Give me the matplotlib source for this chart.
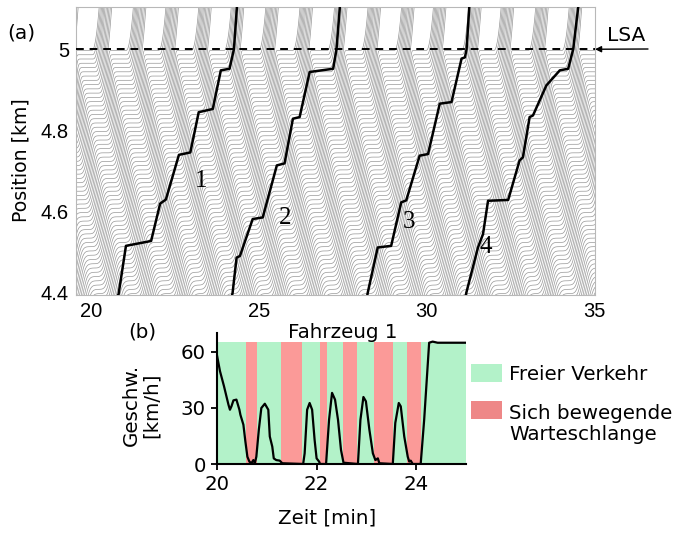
import numpy as np
import matplotlib
matplotlib.use("Agg")
import matplotlib.pyplot as plt
from matplotlib.collections import LineCollection
from matplotlib.patches import Rectangle

# ---------------- data ----------------
# (a) highlighted vehicle trajectories: time [min], position [km]
veh1_t = [20.70, 20.81, 21.03, 21.78, 22.05, 22.22, 22.61, 22.95, 23.20, 23.62, 23.86, 24.12, 24.25, 24.34]
veh1_x = [4.380, 4.397, 4.516, 4.528, 4.620, 4.630, 4.740, 4.746, 4.845, 4.853, 4.948, 4.952, 5.000, 5.104]
veh2_t = [24.16, 24.21, 24.33, 24.43, 24.81, 25.11, 25.53, 25.76, 26.01, 26.21, 26.51, 27.21, 27.31, 27.41]
veh2_x = [4.380, 4.400, 4.487, 4.491, 4.582, 4.586, 4.714, 4.719, 4.829, 4.833, 4.944, 4.952, 5.000, 5.104]
veh3_t = [28.20, 28.24, 28.54, 28.94, 29.24, 29.39, 29.79, 30.04, 30.39, 30.74, 31.04, 31.14, 31.19, 31.27]
veh3_x = [4.380, 4.400, 4.512, 4.516, 4.623, 4.628, 4.738, 4.742, 4.866, 4.870, 4.977, 4.980, 5.000, 5.104]
veh4_t = [31.15, 31.18, 31.53, 31.68, 31.83, 32.43, 32.77, 32.87, 33.07, 33.17, 33.57, 33.97, 34.22, 34.37, 34.52]
veh4_x = [4.380, 4.400, 4.512, 4.545, 4.627, 4.629, 4.726, 4.734, 4.833, 4.837, 4.911, 4.948, 4.952, 5.000, 5.104]
veh_labels = ["1", "2", "3", "4"]
label_t = [23.26, 25.78, 29.47, 31.77]
label_x = [4.675, 4.585, 4.575, 4.512]

# traffic light (LSA) at 5 km: green phase starts [min] (cycle ~1 min)
green_start = [15.03, 16.03, 17.03, 18.03, 19.03, 20.03, 21.05, 22.02, 23.0, 23.97,
               25.0, 26.02, 27.05, 28.05, 29.05, 30.0, 31.05, 32.02, 33.05, 34.05, 35.05]
green_dur = 0.5

# (b) speed of vehicle 1 [km/h]
speed_t = [20.0, 20.06, 20.14, 20.23, 20.26, 20.29, 20.33, 20.39, 20.45, 20.47, 20.53, 20.57,
           20.61, 20.65, 20.69, 20.73, 20.76, 20.79, 20.84, 20.89, 20.96, 21.03, 21.06, 21.11,
           21.14, 21.19, 21.26, 21.31, 21.73, 21.76, 21.81, 21.86, 21.91, 21.96, 22.0, 22.05,
           22.07, 22.19, 22.25, 22.31, 22.37, 22.43, 22.49, 22.54, 22.83, 22.88, 22.94, 22.99,
           23.06, 23.13, 23.18, 23.23, 23.26, 23.53, 23.58, 23.65, 23.69, 23.76, 23.83, 23.86,
           23.89, 23.93, 24.09, 24.16, 24.26, 24.33, 24.43, 25.0]
speed_v = [58, 49.6, 41.6, 31.7, 29, 30.8, 34, 34.4, 29, 26.3, 21, 12,
           3.9, 1.3, 0.4, 2.1, 0.4, 3.9, 18.3, 29.9, 32.2, 29, 14.7, 9.3,
           3, 2.1, 1.8, 0.4, 0, 5.7, 29, 32.6, 29, 12.9, 3, 1.3,
           0, 0, 23.6, 38, 34.4, 23.6, 7.5, 0.7, 0, 23.6, 35.8, 33.5,
           18.3, 5.7, 2.1, 3, 0.4, 0, 21.9, 32.6, 30.8, 14.7, 3.9, 1.3,
           1.8, 0, 0, 23.6, 64.8, 65.4, 64.8, 64.8]
queue_start = [20.59, 21.28, 22.06, 22.54, 23.16, 23.81]
queue_end = [20.81, 21.71, 22.20, 22.81, 23.54, 24.09]

# ---------------- background trajectories: queue in front of the LSA (Newell-type follower model) ----------------
dt = 0.005
t_sim = np.arange(15.0, 35.3, dt)
n_veh = 400
jam_gap = 0.0105       # km
react = 0.017          # min
acc = 5.0              # km/min^2
v_queue = 0.7          # km/min before the LSA
v_free = 65.0 / 60.0   # km/min after the LSA
t_relax = 0.015        # min
stop_x = 5.0
lag = max(int(round(react / dt)), 1)
gs = np.array(green_start)
X = np.empty((len(t_sim), n_veh))
X[0] = stop_x - 0.003 - jam_gap * np.arange(n_veh)
v = np.zeros(n_veh)
for s in range(1, len(t_sim)):
    t = t_sim[s]
    x = X[s - 1]
    bound = np.full(n_veh, 1e9)
    bound[1:] = X[max(s - lag, 0), :-1] - jam_gap
    if not np.any((t >= gs) & (t < gs + green_dur)):
        m = x < stop_x
        bound[m] = np.minimum(bound[m], stop_x - 0.003)
    cap = np.where(x < stop_x, v_queue, v_free)
    vg = np.maximum(bound - x, 0) / t_relax
    vn = np.minimum(np.minimum(v + acc * dt, cap), vg)
    X[s] = x + vn * dt
    v = vn
w = 12
c = np.cumsum(np.vstack([np.zeros((1, n_veh)), X]), axis=0)
Xs = (c[w:] - c[:-w]) / w
ts = t_sim[w // 2: w // 2 + Xs.shape[0]]

# ---------------- figure ----------------
fig = plt.figure(figsize=(6.73, 5.34), dpi=100)
W, H = 673.0, 534.0
SANS = "DejaVu Sans"
ax = fig.add_axes([76 / W, 1 - 295 / H, (595 - 76) / W, (295 - 7) / H])
segs = []
for n in range(n_veh):
    xs = Xs[::2, n]
    if xs.max() < 4.38 or xs.min() > 5.11:
        continue
    segs.append(np.column_stack([ts[::2], xs]))
ax.add_collection(LineCollection(segs, colors="#979797", linewidths=0.5))
for vt, vx in [(veh1_t, veh1_x), (veh2_t, veh2_x), (veh3_t, veh3_x), (veh4_t, veh4_x)]:
    ax.plot(vt, vx, color="black", lw=1.8, solid_joinstyle="round", zorder=3)
ax.axhline(5.0, color="black", lw=1.4, ls=(0, (4, 3)), zorder=4)
for lab, lt, lx in zip(veh_labels, label_t, label_x):
    ax.text(lt, lx, lab, fontsize=18, family="Liberation Serif", ha="center", va="center", zorder=5)
ax.set_xlim(19.54, 35.02)
ax.set_ylim(4.395, 5.104)
ax.set_xticks([20, 25, 30, 35])
ax.set_yticks([4.4, 4.6, 4.8, 5.0])
ax.set_yticklabels(["4.4", "4.6", "4.8", "5"])
ax.tick_params(length=0, labelsize=14.5, pad=5)
for lbl in ax.get_xticklabels() + ax.get_yticklabels():
    lbl.set_family("Liberation Sans")
for sp in ax.spines.values():
    sp.set_color("#b8b8b8")
    sp.set_linewidth(0.8)
fig.text(21 / W, 1 - 160 / H, "Position [km]", rotation=90, ha="center", va="center",
         fontsize=13.6, family=SANS)
fig.text(21 / W, 1 - 33 / H, "(a)", ha="center", va="center", fontsize=14.5, family=SANS)
fig.text(626 / W, 1 - 36 / H, "LSA", ha="center", va="center", fontsize=14.5, family=SANS)
ax.annotate("", xy=(1.0, 5.0), xycoords=("axes fraction", "data"),
            xytext=(648 / W, 1 - 49 / H), textcoords="figure fraction",
            arrowprops=dict(arrowstyle="-|>", color="black", lw=1.0, shrinkA=0, shrinkB=0,
                            mutation_scale=9), annotation_clip=False)

# ---------------- panel (b) ----------------
bx = fig.add_axes([217 / W, 1 - 464 / H, (466 - 217) / W, (464 - 333) / H])
green_col = "#b3f2c9"
red_col = "#fb9a98"
bx.axvspan(20, 25, ymin=0, ymax=65 / 70, color=green_col, lw=0, zorder=0)
for a, b in zip(queue_start, queue_end):
    bx.axvspan(a, b, ymin=0, ymax=65 / 70, color=red_col, lw=0, zorder=1)
bx.plot(speed_t, speed_v, color="black", lw=1.6, zorder=3)
bx.set_xlim(20, 25)
bx.set_ylim(0, 70)
bx.set_xticks([20, 22, 24])
bx.set_yticks([0, 30, 60])
bx.spines["top"].set_visible(False)
bx.spines["right"].set_visible(False)
bx.spines["left"].set_linewidth(1.5)
bx.spines["bottom"].set_linewidth(1.5)
bx.tick_params(length=4, width=1.3, labelsize=14.2, pad=4)
for lbl in bx.get_xticklabels() + bx.get_yticklabels():
    lbl.set_family(SANS)
fig.text(343 / W, 1 - 332 / H, "Fahrzeug 1", ha="center", va="center", fontsize=14.3, family=SANS)
fig.text(142 / W, 1 - 332 / H, "(b)", ha="center", va="center", fontsize=14.3, family=SANS)
fig.text(141 / W, 1 - 405 / H, "Geschw.\n[km/h]", rotation=90, ha="center", va="center",
         fontsize=14.3, family=SANS, linespacing=1.05)
fig.text(327 / W, 1 - 518 / H, "Zeit [min]", ha="center", va="center", fontsize=14.3, family=SANS)

# legend
fig.patches.append(Rectangle((471 / W, 1 - 382 / H), 31 / W, 18 / H, transform=fig.transFigure,
                             facecolor=green_col, edgecolor="none"))
fig.patches.append(Rectangle((471 / W, 1 - 419 / H), 31 / W, 18 / H, transform=fig.transFigure,
                             facecolor="#ee8787", edgecolor="none"))
fig.text(509 / W, 1 - 374 / H, "Freier Verkehr", ha="left", va="center", fontsize=14.3, family=SANS)
fig.text(509 / W, 1 - 424 / H, "Sich bewegende\nWarteschlange", ha="left", va="center",
         fontsize=14.3, family=SANS, linespacing=1.15)

fig.savefig("out.png", dpi=100)
